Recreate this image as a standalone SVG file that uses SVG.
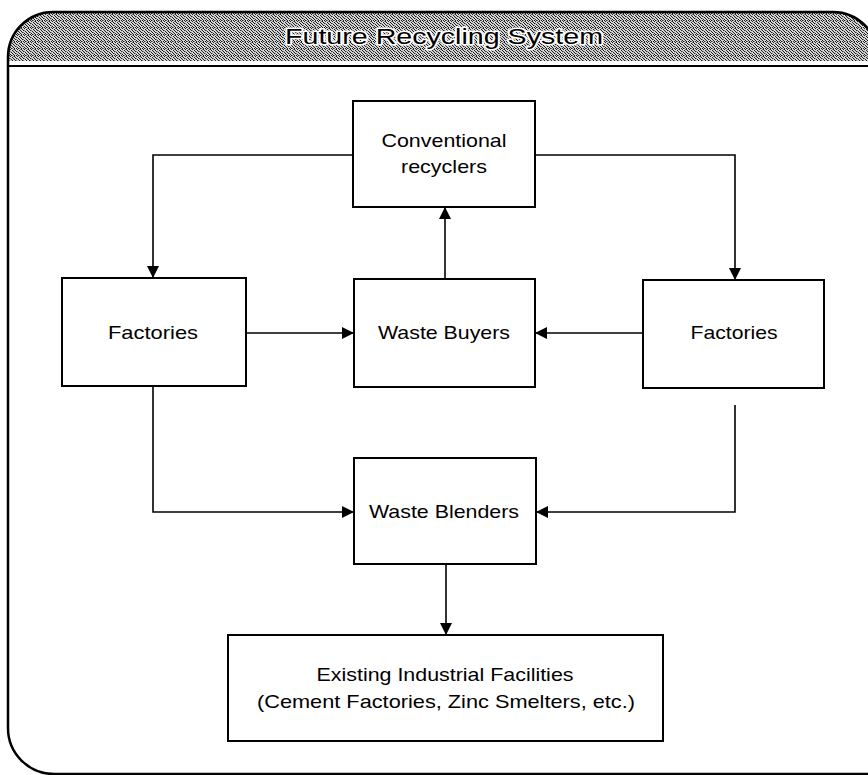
<svg xmlns="http://www.w3.org/2000/svg" width="868" height="775" viewBox="0 0 868 775">
  <defs>
    <pattern id="halftone" patternUnits="userSpaceOnUse" width="7" height="7">
      <rect width="7" height="7" fill="#d4d4d4"/>
      <g fill="#1e1e1e">
        <rect x="0" y="0" width="1" height="1"/>
        <rect x="3" y="0" width="1" height="1"/>
        <rect x="5" y="1" width="1" height="1"/>
        <rect x="1" y="1" width="1" height="1"/>
        <rect x="2" y="2" width="1" height="1"/>
        <rect x="6" y="2" width="1" height="1"/>
        <rect x="4" y="3" width="1" height="1"/>
        <rect x="0" y="3" width="1" height="1"/>
        <rect x="1" y="4" width="1" height="1"/>
        <rect x="5" y="4" width="1" height="1"/>
        <rect x="3" y="5" width="1" height="1"/>
        <rect x="6" y="5" width="1" height="1"/>
        <rect x="0" y="6" width="1" height="1"/>
        <rect x="2" y="6" width="1" height="1"/>
        <rect x="4" y="6" width="1" height="1"/>
      </g>
      <g fill="#7a7a7a">
        <rect x="6" y="0" width="1" height="1"/>
        <rect x="3" y="2" width="1" height="1"/>
        <rect x="2" y="4" width="1" height="1"/>
        <rect x="5" y="6" width="1" height="1"/>
      </g>
    </pattern>
    <marker id="arrow" viewBox="0 0 12 12" refX="11" refY="6" markerWidth="12" markerHeight="12" markerUnits="userSpaceOnUse" orient="auto">
      <path d="M0,0 L12,6 L0,12 Z" fill="#000"/>
    </marker>
  </defs>
  <style>
    .box { fill: #fff; stroke: #000; stroke-width: 2; }
    .conn { fill: none; stroke: #000; stroke-width: 1.6; }
    .lbl { font-family: "Liberation Sans", Arial, sans-serif; font-size: 19px; fill: #000; text-anchor: middle; }
    .title { font-family: "Liberation Sans", Arial, sans-serif; font-size: 22px; fill: #000; text-anchor: middle; stroke: #fff; stroke-width: 3; paint-order: stroke; stroke-linejoin: round; }
  </style>

  <rect width="868" height="775" fill="#fff"/>

  <g id="frame">
    <path d="M8,61 L8,57 A45,45 0 0 1 53,12 L833,12 A45,45 0 0 1 878,57 L878,61 Z" fill="url(#halftone)"/>
    <path d="M8,728 L8,57 A45,45 0 0 1 53,12 L833,12 A45,45 0 0 1 878,57 L878,774 L54,774 A46,46 0 0 1 8,728 Z" fill="none" stroke="#000" stroke-width="2.5"/>
    <line x1="8" y1="66" x2="868" y2="66" stroke="#000" stroke-width="2"/>
    <text class="title" x="444" y="44" textLength="318" lengthAdjust="spacingAndGlyphs">Future Recycling System</text>
  </g>

  <g id="connectors">
    <polyline class="conn" points="353,155 153,155 153,277" marker-end="url(#arrow)"/>
    <polyline class="conn" points="535,155 735,155 735,279" marker-end="url(#arrow)"/>
    <line class="conn" x1="445" y1="279" x2="445" y2="208" marker-end="url(#arrow)"/>
    <line class="conn" x1="246" y1="333" x2="353" y2="333" marker-end="url(#arrow)"/>
    <line class="conn" x1="643" y1="333" x2="536" y2="333" marker-end="url(#arrow)"/>
    <polyline class="conn" points="153,386 153,512 353,512" marker-end="url(#arrow)"/>
    <polyline class="conn" points="735,405 735,512 537,512" marker-end="url(#arrow)"/>
    <line class="conn" x1="446" y1="564" x2="446" y2="634" marker-end="url(#arrow)"/>
  </g>

  <g id="conventional-recyclers">
    <rect class="box" x="353" y="101" width="182" height="106"/>
    <text class="lbl" x="444" y="147" textLength="125" lengthAdjust="spacingAndGlyphs">Conventional</text>
    <text class="lbl" x="444" y="173" textLength="86" lengthAdjust="spacingAndGlyphs">recyclers</text>
  </g>

  <g id="factories-left">
    <rect class="box" x="62" y="278" width="184" height="108"/>
    <text class="lbl" x="153" y="339" textLength="90" lengthAdjust="spacingAndGlyphs">Factories</text>
  </g>

  <g id="waste-buyers">
    <rect class="box" x="354" y="279" width="181" height="108"/>
    <text class="lbl" x="444" y="339" textLength="132" lengthAdjust="spacingAndGlyphs">Waste Buyers</text>
  </g>

  <g id="factories-right">
    <rect class="box" x="643" y="280" width="181" height="108"/>
    <text class="lbl" x="734" y="339" textLength="87" lengthAdjust="spacingAndGlyphs">Factories</text>
  </g>

  <g id="waste-blenders">
    <rect class="box" x="354" y="458" width="182" height="106"/>
    <text class="lbl" x="444" y="518" textLength="150" lengthAdjust="spacingAndGlyphs">Waste Blenders</text>
  </g>

  <g id="existing-facilities">
    <rect class="box" x="228" y="635" width="435" height="106"/>
    <text class="lbl" x="445" y="681" textLength="257" lengthAdjust="spacingAndGlyphs">Existing Industrial Facilities</text>
    <text class="lbl" x="446" y="708" textLength="378" lengthAdjust="spacingAndGlyphs">(Cement Factories, Zinc Smelters, etc.)</text>
  </g>
</svg>
